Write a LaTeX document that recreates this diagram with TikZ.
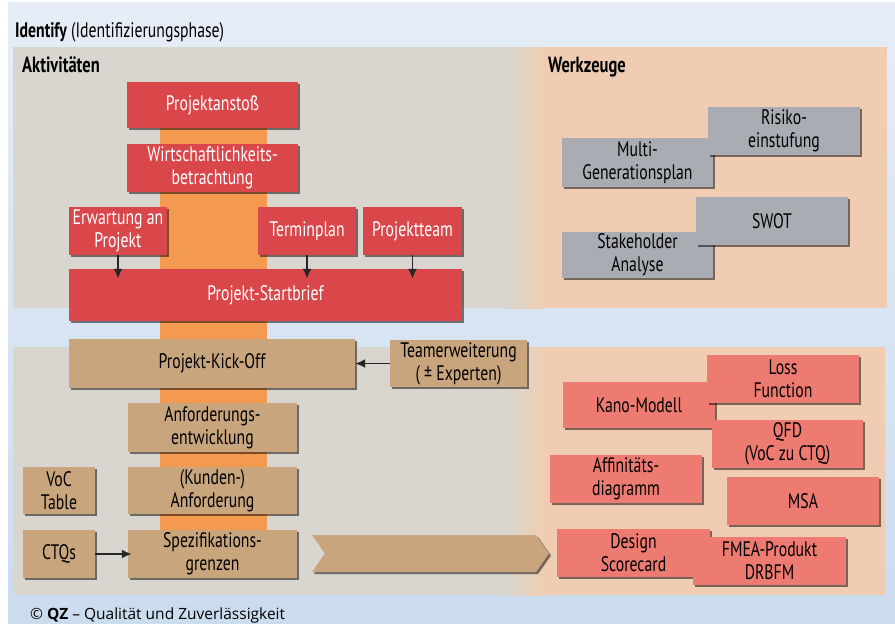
\documentclass[tikz,border=0pt]{standalone}
\usepackage{fontspec}
\setmainfont{PT Sans}[FakeStretch=0.75]
\newfontfamily\creditfont{Open Sans}
\usetikzlibrary{shadows,shapes.symbols,arrows.meta}

% Colours
\definecolor{bgtop}{HTML}{E6EDF6}
\definecolor{bgbot}{HTML}{CBDCEF}
\definecolor{panelgrey}{HTML}{D9D6D0}
\definecolor{panelpeach}{HTML}{F0CDB2}
\definecolor{bandorange}{HTML}{F39A50}
\definecolor{actred}{HTML}{D9474B}
\definecolor{steptan}{HTML}{C8A57C}
\definecolor{toolgrey}{HTML}{A9ADB3}
\definecolor{methsalmon}{HTML}{EE7B72}

\begin{document}
\begin{tikzpicture}[x=1pt, y=-1pt,
    box/.style={rectangle, inner sep=0pt, align=center,
      font=\fontsize{21}{23}\selectfont,
      drop shadow={shadow xshift=2pt, shadow yshift=-2pt, opacity=0.5, fill=black}},
    actbox/.style={box, fill=actred, text=white},
    stepbox/.style={box, fill=steptan},
    toolbox/.style={box, fill=toolgrey},
    methbox/.style={box, fill=methsalmon},
    arr/.style={-{Latex[length=10pt, width=9pt]}, line width=1.8pt, black!85}]

    % Canvas
    \fill[white] (0,0) rectangle (895,624);
    \useasboundingbox (0,0) rectangle (895,624);
    \shade[top color=bgtop, bottom color=bgbot] (8,2) rectangle (895,624);

    % Panels
    \fill[panelgrey] (13,47) rectangle (887,308);
    \fill[panelpeach] (545,47) rectangle (887,308);
    \shade[left color=panelgrey, right color=panelpeach] (505,47) rectangle (545,308);
    \fill[panelgrey] (13,347) rectangle (885,595);
    \fill[panelpeach] (545,347) rectangle (885,595);
    \shade[left color=panelgrey, right color=panelpeach] (505,347) rectangle (545,595);

    % Orange band
    \fill[bandorange] (160,95) rectangle (267,530);

    % Headings
    \node[anchor=base west, inner sep=0pt, font=\fontsize{21}{22}\selectfont] (title) at (15,37)
      {\textbf{Identify} (Identifizierungsphase)};
    \node[anchor=base west, inner sep=0pt, font=\fontsize{22}{22}\selectfont\bfseries] (akt) at (22,72) {Aktivitäten};
    \node[anchor=base west, inner sep=0pt, font=\fontsize{22}{22}\selectfont\bfseries] (werk) at (548,72) {Werkzeuge};

    % Activities, upper phase
    \node[actbox, minimum width=171pt, minimum height=46pt] (anstoss) at (212.5,105) {Projektanstoß};
    \node[actbox, minimum width=171pt, minimum height=48pt] (wirtsch) at (212.5,168) {Wirtschaftlichkeits-\\betrachtung};
    \node[actbox, minimum width=98pt, minimum height=48pt] (erwartung) at (118,231) {Erwartung an\\Projekt};
    \node[actbox, minimum width=98pt, minimum height=48pt] (termin) at (307,231) {Terminplan};
    \node[actbox, minimum width=99pt, minimum height=48pt] (team) at (412.5,231) {Projektteam};
    \node[actbox, minimum width=393pt, minimum height=52pt] (startbrief) at (265.5,295) {Projekt-Startbrief};

    \draw[arr, shorten >=-10pt] (erwartung.south) -- (erwartung.south |- startbrief.north);
    \draw[arr, shorten >=-10pt] (termin.south) -- (termin.south |- startbrief.north);
    \draw[arr, shorten >=-10pt] (team.south) -- (team.south |- startbrief.north);

    % Activities, lower phase
    \node[stepbox, minimum width=286pt, minimum height=49pt] (kickoff) at (212,363.5) {Projekt-Kick-Off};
    \node[stepbox, minimum width=137pt, minimum height=47pt] (teamerw) at (458.5,363.5) {Teamerweiterung\\( ± Experten)};
    \node[stepbox, minimum width=169pt, minimum height=49pt] (anfentw) at (212.5,427.5) {Anforderungs-\\entwicklung};
    \node[stepbox, minimum width=169pt, minimum height=47pt] (kundenanf) at (212.5,490.5) {(Kunden-)\\Anforderung};
    \node[stepbox, minimum width=72pt, minimum height=47pt] (voc) at (59,490.5) {VoC\\Table};
    \node[stepbox, minimum width=72pt, minimum height=48pt] (ctqs) at (59,554) {CTQs};
    \node[stepbox, minimum width=169pt, minimum height=48pt] (spez) at (212.5,554) {Spezifikations-\\grenzen};

    \draw[arr] (teamerw.west) -- (teamerw.west -| kickoff.east);
    \draw[arr, shorten >=-4pt] (ctqs.east) -- (ctqs.east -| spez.west);

    % Flow to the tools
    \node[signal, signal to=east, signal from=west, signal pointer angle=110,
      fill=steptan, inner sep=0pt, minimum width=237pt, minimum height=37pt,
      drop shadow={shadow xshift=2pt, shadow yshift=-2pt, opacity=0.5, fill=black}] (flow) at (430.5,553.5) {};

    % Tools, upper phase
    \node[toolbox, minimum width=151pt, minimum height=49pt] (multi) at (637.5,162.5) {Multi-\\Generationsplan};
    \node[toolbox, minimum width=152pt, minimum height=48pt] (risiko) at (784,131) {Risiko-\\einstufung};
    \node[toolbox, minimum width=151pt, minimum height=46pt] (stake) at (637.5,255) {Stakeholder\\Analyse};
    \node[toolbox, minimum width=152pt, minimum height=48pt] (swot) at (772,221) {SWOT};

    % Tools, lower phase
    \node[methbox, minimum width=152pt, minimum height=46pt] (kano) at (639,405) {Kano-Modell};
    \node[methbox, minimum width=152pt, minimum height=48pt] (loss) at (783,379) {Loss\\Function};
    \node[methbox, minimum width=151pt, minimum height=48pt] (qfd) at (787.5,444) {QFD\\(VoC zu CTQ)};
    \node[methbox, minimum width=152pt, minimum height=48pt] (affin) at (626,479) {Affinitäts-\\diagramm};
    \node[methbox, minimum width=152pt, minimum height=48pt] (msa) at (803,501) {MSA};
    \node[methbox, minimum width=153pt, minimum height=48pt] (design) at (633.5,553) {Design\\Scorecard};
    \node[methbox, minimum width=153pt, minimum height=48pt] (fmea) at (769.5,561) {FMEA-Produkt\\DRBFM};

    % Credit line
    \node[anchor=base west, inner sep=0pt, font=\creditfont\fontsize{15.5}{17}\selectfont] (credit) at (30,619)
      {© \textbf{QZ} – Qualität und Zuverlässigkeit};
\end{tikzpicture}
\end{document}
